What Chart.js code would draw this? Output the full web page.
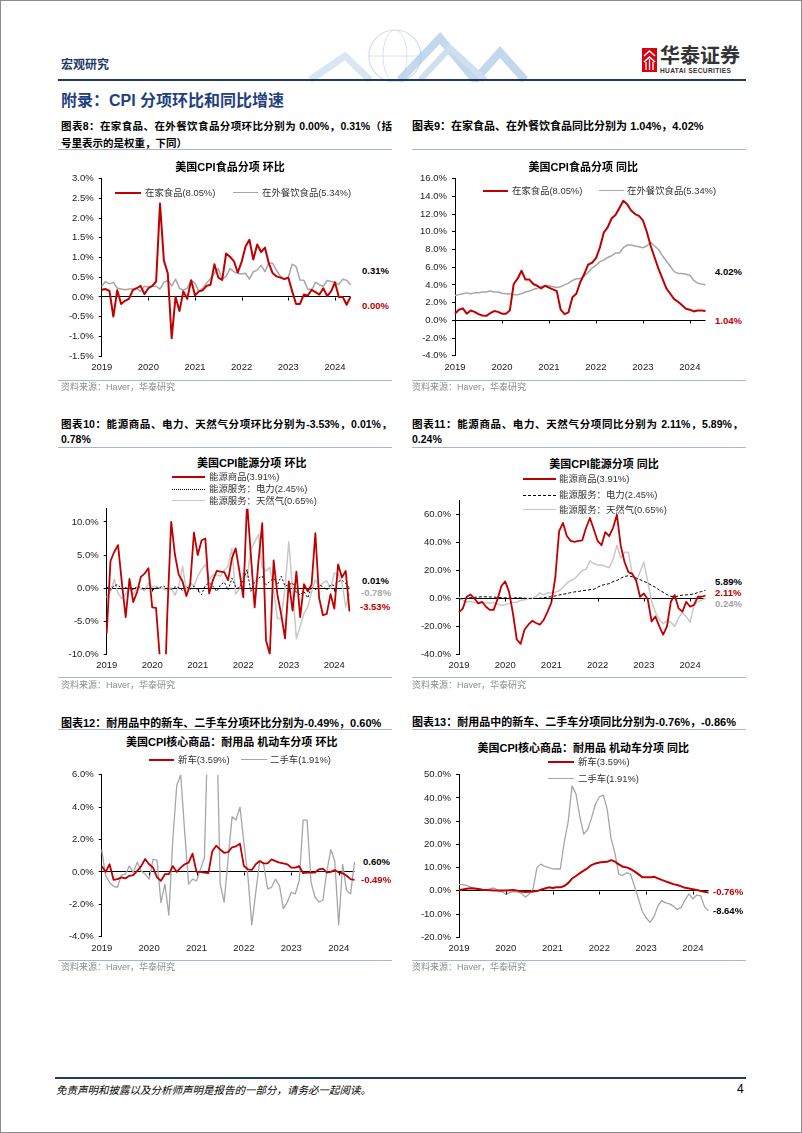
<!DOCTYPE html>
<html lang="zh-CN"><head><meta charset="utf-8">
<script src="https://cdn.jsdelivr.net/npm/chart.js@4.4.1/dist/chart.umd.min.js"></script>
<style>
html,body{margin:0;padding:0}
body{width:802px;height:1133px;position:relative;overflow:hidden;background:#fff;font-family:"Liberation Sans",Arial,"Noto Sans CJK SC",sans-serif;color:#000}
#frame{position:absolute;left:0;top:0;width:800px;height:1131px;border:1px solid #8c8c8c;pointer-events:none}
.t{position:absolute;white-space:nowrap;line-height:16px;height:16px}
.rule{position:absolute;height:0;border-top:1px solid #a9b6ca}
.navy{position:absolute;background:#1f3864}
.fig{font-weight:bold;font-size:11px}
.just{text-align:justify;text-align-last:justify;white-space:normal;overflow:hidden;font-size:10.5px}
.ctitle{font-weight:bold;font-size:11px;transform:translateX(-50%)}
.leg{font-size:9.4px;color:#333}
.ll{position:absolute;height:0}
.src{font-size:9px;color:#8c8c8c}
.end{font-weight:bold;font-size:9.5px}
canvas{position:absolute}
</style></head><body>
<div id="frame"></div>

<!-- header -->
<svg style="position:absolute;left:300px;top:26px" width="230" height="56">
  <circle cx="95" cy="30" r="26" fill="none" stroke="#d5dbe5" stroke-width="1.2"/>
  <ellipse cx="95" cy="30" rx="12" ry="26" fill="none" stroke="#dde2ea" stroke-width="1"/>
  <line x1="69" y1="30" x2="121" y2="30" stroke="#dde2ea"/>
  <polyline points="10,54 45,30 70,54" fill="none" stroke="#dbe6f3" stroke-width="7"/>
  <polyline points="100,54 140,12 175,54 200,26 225,54" fill="none" stroke="#a9c6e6" stroke-width="8" opacity="0.7"/>
  <polyline points="120,54 150,22 185,54" fill="none" stroke="#cfdff0" stroke-width="6"/>
</svg>
<div class="t" style="left:61px;top:57px;font-size:12px;font-weight:bold;color:#1f3864">宏观研究</div>
<svg style="position:absolute;left:642px;top:48px" width="15" height="24">
  <rect x="0" y="0" width="15" height="24" fill="#d6000f"/>
  <polyline points="2,8 7.5,3 13,8" fill="none" stroke="#fff" stroke-width="1.4"/>
  <polyline points="2,14 7.5,9 13,14" fill="none" stroke="#fff" stroke-width="1.4"/>
  <line x1="4" y1="14" x2="4" y2="22" stroke="#fff" stroke-width="1.3"/>
  <line x1="7.5" y1="11" x2="7.5" y2="22" stroke="#fff" stroke-width="1.3"/>
  <line x1="11" y1="14" x2="11" y2="22" stroke="#fff" stroke-width="1.3"/>
</svg>
<div class="t" style="left:660px;top:45px;font-size:20px;line-height:22px;height:22px;font-weight:bold;color:#333">华泰证券</div>
<div class="t" style="left:660px;top:66px;font-size:6.6px;line-height:9px;height:9px;font-weight:bold;color:#333;letter-spacing:0.35px">HUATAI SECURITIES</div>
<div class="navy" style="left:58px;top:79px;width:688px;height:2px"></div>

<div class="t" style="left:61px;top:92px;font-size:16px;line-height:18px;height:18px;font-weight:bold;color:#1f3f7f">附录：CPI 分项环比和同比增速</div>

<!-- figure titles row 1 -->
<div class="t fig just" style="left:61px;top:118px;width:331px">图表8：在家食品、在外餐饮食品分项环比分别为 0.00%，0.31%（括</div>
<div class="t fig" style="left:61px;top:136px;font-size:10.5px;line-height:15px;height:15px">号里表示的是权重，下同）</div>
<div class="t fig" style="left:412px;top:118px">图表9：在家食品、在外餐饮食品同比分别为 1.04%，4.02%</div>
<div class="rule" style="left:58px;top:148.5px;width:334px"></div>
<div class="rule" style="left:412px;top:148.5px;width:334px"></div>

<!-- figure titles row 2 -->
<div class="t fig just" style="left:61px;top:416px;width:331px">图表10：能源商品、电力、天然气分项环比分别为-3.53%，0.01%，</div>
<div class="t fig" style="left:61px;top:431px;font-size:10.5px">0.78%</div>
<div class="t fig just" style="left:412px;top:416px;width:331px">图表11：能源商品、电力、天然气分项同比分别为 2.11%，5.89%，</div>
<div class="t fig" style="left:412px;top:431px;font-size:10.5px">0.24%</div>
<div class="rule" style="left:58px;top:446.5px;width:334px"></div>
<div class="rule" style="left:412px;top:446.5px;width:334px"></div>

<!-- figure titles row 3 -->
<div class="t fig" style="left:61px;top:714.5px">图表12：耐用品中的新车、二手车分项环比分别为-0.49%，0.60%</div>
<div class="t fig" style="left:412px;top:714px">图表13：耐用品中的新车、二手车分项同比分别为-0.76%，-0.86%</div>
<div class="rule" style="left:58px;top:729px;width:334px"></div>
<div class="rule" style="left:412px;top:729px;width:334px"></div>

<!-- canvases -->
<canvas id="c8"></canvas><canvas id="c9"></canvas>
<canvas id="c10"></canvas><canvas id="c11"></canvas>
<canvas id="c12"></canvas><canvas id="c13"></canvas>

<!-- chart titles -->
<div class="t ctitle" style="left:230px;top:158.7px">美国CPI食品分项 环比</div>
<div class="t ctitle" style="left:583.3px;top:158.7px">美国CPI食品分项 同比</div>
<div class="t ctitle" style="left:251.7px;top:455.3px">美国CPI能源分项 环比</div>
<div class="t ctitle" style="left:604px;top:456px">美国CPI能源分项 同比</div>
<div class="t ctitle" style="left:231.7px;top:733.7px">美国CPI核心商品：耐用品 机动车分项 环比</div>
<div class="t ctitle" style="left:583.3px;top:740.3px">美国CPI核心商品：耐用品 机动车分项 同比</div>

<!-- legends chart 8 -->
<div class="ll" style="left:115px;top:192px;width:26px;border-top:2px solid #c00000"></div>
<div class="t leg" style="left:145px;top:185px">在家食品(8.05%)</div>
<div class="ll" style="left:232.7px;top:192.3px;width:25.3px;border-top:1.5px solid #a6a6a6"></div>
<div class="t leg" style="left:262px;top:185px">在外餐饮食品(5.34%)</div>
<!-- legends chart 9 -->
<div class="ll" style="left:482.7px;top:189.7px;width:25.3px;border-top:2px solid #c00000"></div>
<div class="t leg" style="left:512px;top:182.7px">在家食品(8.05%)</div>
<div class="ll" style="left:599px;top:190px;width:25px;border-top:1.5px solid #a6a6a6"></div>
<div class="t leg" style="left:627px;top:182.7px">在外餐饮食品(5.34%)</div>
<!-- legends chart 10 -->
<div class="ll" style="left:171.7px;top:475.7px;width:33.3px;border-top:2px solid #c00000"></div>
<div class="t leg" style="left:209px;top:468.7px">能源商品(3.91%)</div>
<div class="ll" style="left:171.7px;top:488.5px;width:33.3px;border-top:1.2px dotted #000"></div>
<div class="t leg" style="left:209px;top:481px">能源服务：电力(2.45%)</div>
<div class="ll" style="left:171.7px;top:500px;width:33.3px;border-top:1.5px solid #c8c8c8"></div>
<div class="t leg" style="left:209px;top:492.7px">能源服务：天然气(0.65%)</div>
<!-- legends chart 11 -->
<div class="ll" style="left:523px;top:477.7px;width:32.7px;border-top:2px solid #c00000"></div>
<div class="t leg" style="left:559px;top:470.7px">能源商品(3.91%)</div>
<div class="ll" style="left:523px;top:494.5px;width:32.7px;border-top:1px dashed #000"></div>
<div class="t leg" style="left:559px;top:487px">能源服务：电力(2.45%)</div>
<div class="ll" style="left:523px;top:509.3px;width:32.7px;border-top:1.5px solid #c8c8c8"></div>
<div class="t leg" style="left:559px;top:502px">能源服务：天然气(0.65%)</div>
<!-- legends chart 12 -->
<div class="ll" style="left:149px;top:759px;width:25px;border-top:2px solid #c00000"></div>
<div class="t leg" style="left:178px;top:752px">新车(3.59%)</div>
<div class="ll" style="left:240.7px;top:759.3px;width:26px;border-top:1.5px solid #a6a6a6"></div>
<div class="t leg" style="left:270px;top:752px">二手车(1.91%)</div>
<!-- legends chart 13 -->
<div class="ll" style="left:548px;top:761.3px;width:26px;border-top:2px solid #c00000"></div>
<div class="t leg" style="left:578px;top:754.3px">新车(3.59%)</div>
<div class="ll" style="left:548px;top:778.3px;width:26px;border-top:1.5px solid #a6a6a6"></div>
<div class="t leg" style="left:578px;top:771px">二手车(1.91%)</div>

<!-- end labels -->
<div class="t end" style="left:362px;top:263px">0.31%</div>
<div class="t end" style="left:362px;top:298px;color:#c00000">0.00%</div>
<div class="t end" style="left:715px;top:263.5px">4.02%</div>
<div class="t end" style="left:715px;top:312.5px;color:#c00000">1.04%</div>
<div class="t end" style="left:362px;top:572.7px">0.01%</div>
<div class="t end" style="left:361px;top:584.7px;color:#a6a6a6">-0.78%</div>
<div class="t end" style="left:360px;top:598.7px;color:#c00000">-3.53%</div>
<div class="t end" style="left:715px;top:573.7px">5.89%</div>
<div class="t end" style="left:715px;top:584.7px;color:#c00000">2.11%</div>
<div class="t end" style="left:715px;top:596px;color:#a6a6a6">0.24%</div>
<div class="t end" style="left:363px;top:853.7px">0.60%</div>
<div class="t end" style="left:361px;top:872px;color:#c00000">-0.49%</div>
<div class="t end" style="left:713px;top:883.7px;color:#c00000">-0.76%</div>
<div class="t end" style="left:713px;top:902.7px">-8.64%</div>

<!-- sources -->
<div class="rule" style="left:58px;top:379.5px;width:334px"></div>
<div class="rule" style="left:412px;top:379.5px;width:334px"></div>
<div class="t src" style="left:61px;top:378.7px">资料来源：Haver，华泰研究</div>
<div class="t src" style="left:412px;top:378.7px">资料来源：Haver，华泰研究</div>
<div class="rule" style="left:58px;top:677px;width:334px"></div>
<div class="rule" style="left:412px;top:677px;width:334px"></div>
<div class="t src" style="left:61px;top:677px">资料来源：Haver，华泰研究</div>
<div class="t src" style="left:412px;top:677px">资料来源：Haver，华泰研究</div>
<div class="rule" style="left:58px;top:960px;width:334px"></div>
<div class="rule" style="left:412px;top:960px;width:334px"></div>
<div class="t src" style="left:61px;top:959px">资料来源：Haver，华泰研究</div>
<div class="t src" style="left:412px;top:959px">资料来源：Haver，华泰研究</div>

<!-- footer -->
<div class="navy" style="left:55px;top:1077px;width:691px;height:2px"></div>
<div class="t" style="left:56px;top:1082px;font-size:10.5px;font-style:italic">免责声明和披露以及分析师声明是报告的一部分，请务必一起阅读。</div>
<div class="t" style="left:737px;top:1081px;font-size:12px">4</div>

<script>
// ---------- categories ----------
const years = ['2019','2020','2021','2022','2023','2024'];
const months = [];
years.forEach(y => { for (let m = 1; m <= 12; m++) { if (months.length < 65) months.push(y + '-' + String(m).padStart(2, '0')); } });

// ---------- 图表8 环比 (%) ----------
const food_home_mom = [0.18,0.20,0.15,-0.50,0.17,-0.18,-0.10,-0.05,0.17,0.22,0.28,0.07,
  0.22,0.28,0.39,2.37,0.92,0.60,-1.05,0.00,-0.36,0.14,-0.05,0.42,
  0.04,0.14,0.17,0.28,0.31,0.83,0.49,0.43,1.10,1.02,0.91,0.62,
  0.89,1.28,1.45,0.95,1.33,1.14,1.25,0.85,0.60,0.52,0.49,0.45,
  0.49,0.14,-0.18,-0.18,0.06,0.03,0.18,0.12,0.06,0.22,0.02,0.14,
  0.37,0.00,0.00,-0.20,0.00];
const food_away_mom = [0.27,0.39,0.33,0.37,0.22,0.20,0.18,0.20,0.20,0.22,0.14,0.27,
  0.25,0.27,0.27,0.20,0.37,0.42,0.28,0.45,0.22,0.17,0.22,0.42,
  0.35,0.14,0.22,0.35,0.47,0.60,0.72,0.45,0.52,0.72,0.64,0.60,
  0.58,0.60,0.45,0.64,0.68,0.80,0.64,0.87,0.85,0.67,0.52,0.45,
  0.50,0.83,0.77,0.43,0.42,0.20,0.18,0.37,0.31,0.27,0.42,0.39,
  0.37,0.31,0.45,0.42,0.31];

// ---------- 图表9 同比 (%) ----------
const food_home_yoy = [0.74,1.2,1.35,0.75,1.1,0.95,0.7,0.55,0.5,0.8,1.05,0.95,
  0.75,0.75,1.1,4.1,4.7,5.6,4.6,4.6,4.1,3.9,3.6,3.9,
  3.7,3.5,3.3,1.2,0.7,0.9,2.6,3.0,4.3,5.2,6.3,6.5,
  7.0,8.2,9.9,10.5,11.5,11.9,12.7,13.5,13.1,12.4,12.0,11.8,
  11.3,10.0,8.4,7.1,5.8,4.7,3.6,3.0,2.4,2.1,1.7,1.3,
  1.2,1.0,1.1,1.1,1.04];
const food_away_yoy = [2.8,2.9,3.0,3.1,3.0,3.1,3.1,3.2,3.2,3.3,3.2,3.2,
  3.05,3.0,3.0,2.9,2.9,3.0,3.2,3.3,3.5,3.6,3.8,3.9,
  3.9,3.8,3.7,3.8,4.0,4.2,4.5,4.7,4.7,5.0,5.4,5.9,
  6.2,6.6,6.8,7.1,7.3,7.6,7.6,8.2,8.5,8.5,8.4,8.3,
  8.2,8.4,8.8,8.4,8.0,7.3,6.7,6.1,5.5,5.3,5.3,5.2,
  5.1,4.5,4.2,4.1,4.02];

// ---------- 图表10 能源环比 (%) ----------
const energy_goods_mom = [-6.8,4.1,5.5,6.5,0.8,-4.4,1.4,-2.1,-0.6,1.7,2.2,3.0,
  -2.9,-3.0,-10.5,-20.6,-3.5,10.0,5.0,2.0,1.0,-1.2,0.5,8.4,
  5.0,7.2,7.5,-0.8,1.2,2.6,2.5,2.4,1.2,4.5,6.0,2.5,
  -1.4,13.0,5.0,-2.9,4.0,9.8,-7.9,-10.0,4.2,-1.0,-4.0,-7.6,
  1.0,-3.4,2.5,-4.4,0.6,-0.5,0.5,8.3,-1.5,-4.1,-3.9,-0.9,
  -3.1,3.6,1.6,2.6,-3.53];
const electricity_mom = [0.2,-0.3,0.4,0.5,-0.2,0.1,0.0,-0.3,0.3,0.1,-0.2,0.1,
  -0.3,0.0,0.1,0.3,-0.1,-0.2,0.2,0.1,-0.4,0.2,-0.2,0.3,
  -0.3,-1.0,0.4,0.8,0.3,-0.5,0.5,0.9,-0.3,1.5,0.2,0.0,
  1.2,2.8,-0.5,1.0,1.5,1.8,0.5,1.0,1.5,0.5,1.8,0.3,
  0.5,0.8,-0.7,-1.0,-0.5,-1.5,0.2,-0.3,0.5,0.2,-0.3,0.5,
  0.4,1.0,1.2,0.7,0.01];
const gas_mom = [-1.4,-0.5,1.3,-0.8,-1.6,-0.9,0.0,-0.9,0.0,-0.1,-0.4,0.8,
  0.1,0.3,0.0,-0.1,-0.4,0.1,-1.1,0.3,3.3,-0.4,0.8,0.3,
  1.8,2.8,3.6,1.3,2.0,2.0,1.8,2.7,3.3,6.0,-0.9,-0.1,
  2.3,1.6,5.8,7.0,8.1,3.1,2.6,3.1,-0.4,-4.6,-4.6,0.1,
  7.0,-0.3,-7.6,-5.8,-3.8,-2.8,-0.6,1.3,0.2,0.8,1.1,-0.1,
  2.3,2.1,0.8,-2.8,-0.78];

// ---------- 图表11 能源同比 (%) ----------
const energy_goods_yoy = [-9.9,-7.1,1.2,2.8,0.0,-3.5,-2.4,-5.9,-8.2,-8.2,-0.5,8.9,
  12.2,4.7,-10.6,-29.4,-32.5,-22.4,-18.8,-16.0,-17.6,-18.8,-15.3,-9.4,
  -2.8,15.0,48.2,54.1,44.7,41.2,40.5,41.2,41.6,50.6,57.6,49.4,
  41.2,38.1,47.5,44.7,50.6,60.0,37.6,25.9,18.8,17.6,12.9,1.2,
  3.5,-0.5,-16.5,-12.9,-20.0,-25.9,-20.0,-2.4,2.4,-7.1,-9.4,-2.4,
  -5.9,-4.7,1.2,1.2,2.11];
const electricity_yoy = [-0.5,0,0.2,0.5,0.8,1.0,1.2,1.2,1.0,1.0,0.8,0.5,
  0.4,0.3,0.3,0.5,0.5,0.2,0,0,0,0.2,0.5,1.0,
  1.2,1.8,2.5,3.0,3.5,4.2,4.7,5.0,5.5,5.9,6.3,6.6,
  8.0,9.4,10.0,10.6,12.0,12.9,14.5,15.8,16.2,15.5,14.6,13.5,
  12.2,11.0,9.4,8.0,5.9,4.5,2.8,1.5,1.2,1.8,2.4,2.6,
  2.8,3.2,4.2,5.0,5.89];
const gas_yoy = [1,-1.5,-2.5,-2,-3,-3.5,-3,-3,-3.5,-3,-4,-5,
  -4.5,-3.5,-3,-2.5,-1.5,-1,0,0,1.5,4.0,2.5,4.0,
  4,4.5,5.5,8,11,13,14,17,20,21,27,25,
  24,24,23,22,28,38,29,33,33,17,12,19,
  26,12,-2,-10,-15,-18,-16,-17,-20,-14,-10,-13,
  -17,-5,-2.4,-1.2,0.24];

// ---------- 图表12 机动车环比 (%) ----------
const newcar_mom = [0.36,0,0.47,-0.49,-0.45,-0.34,-0.4,-0.24,-0.2,0.06,0.36,0.8,
  0.47,0.26,-0.34,-0.55,-0.14,-0.14,0.36,0,0.26,0.47,0.57,1.13,
  0,0,-0.04,-0.08,1.28,1.62,1.38,1.18,1.22,1.52,1.58,1.74,
  0.36,0.16,0.12,0.47,0.67,0.53,0.53,0.77,0.67,0.57,0.53,0.47,
  0.26,0.26,0.36,-0.08,-0.04,-0.04,-0.04,0.16,0.2,-0.04,0,0.12,
  -0.04,-0.08,-0.24,-0.45,-0.49];
const usedcar_mom = [1.38,-0.24,-0.65,-0.89,-0.95,-0.2,-0.14,0.36,-0.04,0.6,0.06,-0.14,
  -0.45,0.77,0.73,-1.9,-0.75,-2.67,2.0,5.33,6.0,2.5,-0.75,-0.45,
  -0.55,0.16,0.87,10.0,7.3,10.5,-0.75,-1.86,0.8,3.4,3.2,4.0,
  1.8,-0.24,-3.28,-1.26,0.67,0.47,-1.05,-0.95,-0.45,-0.85,-2.27,-1.86,
  -1.26,-1.36,-0.55,3.2,3.2,-0.65,-1.55,-1.86,-1.75,0.04,1.38,0.67,
  -3.28,0.47,-1.15,-1.36,0.6];

// ---------- 图表13 机动车同比 (%) ----------
const newcar_yoy = [0.3,0.6,0.9,1.1,1.0,0.8,0.5,0.4,0.3,0.2,0.1,0.1,
  0.2,0.3,0.4,0.1,-0.3,-0.5,-0.4,-0.3,-0.1,0.5,1.0,1.5,
  1.2,1.5,1.5,2.1,3.3,5.3,6.4,7.6,8.7,9.8,11.1,11.8,
  12.2,12.4,12.5,13.2,12.6,11.4,10.4,10.1,9.4,8.4,7.2,5.9,
  5.8,5.8,6.1,5.4,4.7,4.1,3.5,2.9,2.5,1.9,1.3,1.0,
  0.7,0.4,-0.1,-0.4,-0.76];
const usedcar_yoy = [2.8,2.7,2.4,1.6,1.0,0.6,0.5,0.2,1.0,1.2,0.1,-0.4,
  -1.5,-0.8,-0.3,-0.5,-1.0,-2.7,-1.5,1.0,10.0,11.5,10.5,10.0,
  9.5,9.4,9.4,21.0,29.7,45.2,41.7,31.9,24.4,26.4,31.4,37.3,
  40.5,41.2,35.3,22.7,16.1,7.1,6.6,7.8,7.2,2.0,-3.3,-8.8,
  -11.6,-13.6,-11.2,-6.6,-4.2,-5.2,-5.6,-6.6,-8.0,-7.1,-3.8,-1.3,
  -3.5,-1.8,-2.2,-6.9,-8.64];

// ---------- colours ----------
const RED = '#c00000', GRAY = '#a6a6a6', LGRAY = '#c8c8c8', BLACK = '#000000';

const zeroTicks = {
  id: 'zeroTicks',
  afterDraw(chart) {
    const xs = chart.scales.x, ys = chart.scales.y, ctx = chart.ctx;
    const y0 = Math.round(ys.getPixelForValue(0)) + 0.5;
    ctx.save(); ctx.strokeStyle = '#000'; ctx.lineWidth = 1;
    chart.data.labels.forEach((lab, i) => {
      if (i > 0 && lab.endsWith('-01')) {
        const x = Math.round(xs.getPixelForValue(i)) + 0.5;
        ctx.beginPath(); ctx.moveTo(x, y0); ctx.lineTo(x, y0 + 3); ctx.stroke();
      }
    });
    ctx.restore();
  }
};

const tickFont = {family: "'Liberation Sans', Arial, sans-serif", size: 9.5};

function makeChart(id, cfg) {
  const c = document.getElementById(id);
  const b = cfg.box, p = cfg.plot;
  c.width = b.w; c.height = b.h;
  c.style.left = b.l + 'px'; c.style.top = b.t + 'px';
  c.style.width = b.w + 'px'; c.style.height = b.h + 'px';
  const yW = p.l - b.l, padR = b.l + b.w - p.r, padT = p.t - b.t, xH = b.t + b.h - p.b;
  new Chart(c, {
    type: 'line',
    data: {
      labels: months,
      datasets: cfg.series.map(s => ({
        label: s.name, data: s.data, borderColor: s.color, borderWidth: s.width,
        borderDash: s.dash || [], pointRadius: 0, tension: 0, fill: false,
        borderJoinStyle: 'round', borderCapStyle: 'butt'
      }))
    },
    options: {
      responsive: false, animation: false, devicePixelRatio: 1, events: [],
      layout: {padding: {left: 0, right: padR, top: padT, bottom: 0}},
      plugins: {legend: {display: false}, tooltip: {enabled: false}, title: {display: false}},
      scales: {
        x: {
          type: 'category', offset: false,
          grid: {display: false, drawTicks: false},
          border: {display: false},
          ticks: {autoSkip: false, maxRotation: 0, minRotation: 0, padding: 5.5, color: '#1a1a1a', font: tickFont,
            callback: (v, i) => months[i].endsWith('-01') ? months[i].slice(0, 4) : ''},
          afterFit: s => { s.height = xH; }
        },
        y: {
          min: cfg.min, max: cfg.max,
          grid: {color: ctx => (ctx.tick && Math.abs(ctx.tick.value) < 1e-9) ? '#000' : 'rgba(0,0,0,0)',
                 tickColor: '#000', tickLength: 3, lineWidth: 1, drawTicks: true},
          border: {display: true, color: '#000', width: 1},
          ticks: {stepSize: cfg.step, padding: 5, color: '#1a1a1a', font: tickFont,
                  callback: v => Number(v).toFixed(1) + '%'},
          afterBuildTicks: s => { s.ticks = s.ticks.filter(t => t.value <= cfg.tickMax + 1e-9); },
          afterFit: s => { s.width = yW; }
        }
      }
    },
    plugins: [zeroTicks]
  });
}

makeChart('c8', {box: {l: 58, t: 168, w: 298, h: 212}, plot: {l: 101.7, r: 352.4, t: 176.7, b: 356},
  min: -1.5, max: 3.0, step: 0.5, tickMax: 3.0,
  series: [{name: '在家食品(8.05%)', data: food_home_mom, color: RED, width: 2},
           {name: '在外餐饮食品(5.34%)', data: food_away_mom, color: GRAY, width: 1.5}]});

makeChart('c9', {box: {l: 405, t: 168, w: 306, h: 212}, plot: {l: 455, r: 707, t: 176.7, b: 355.7},
  min: -4, max: 16, step: 2, tickMax: 16,
  series: [{name: '在家食品(8.05%)', data: food_home_yoy, color: RED, width: 2},
           {name: '在外餐饮食品(5.34%)', data: food_away_yoy, color: GRAY, width: 1.5}]});

makeChart('c10', {box: {l: 58, t: 498, w: 297, h: 180}, plot: {l: 106.7, r: 351, t: 506.7, b: 654.3},
  min: -10, max: 12, step: 5, tickMax: 10,
  series: [{name: '能源商品(3.91%)', data: energy_goods_mom, color: RED, width: 1.8},
           {name: '能源服务：电力(2.45%)', data: electricity_mom, color: BLACK, width: 1, dash: [2, 2]},
           {name: '能源服务：天然气(0.65%)', data: gas_mom, color: LGRAY, width: 1.5}]});

makeChart('c11', {box: {l: 405, t: 490, w: 306, h: 188}, plot: {l: 459, r: 707.3, t: 499.2, b: 654.3},
  min: -40, max: 70, step: 20, tickMax: 60,
  series: [{name: '能源商品(3.91%)', data: energy_goods_yoy, color: RED, width: 1.8},
           {name: '能源服务：电力(2.45%)', data: electricity_yoy, color: BLACK, width: 1, dash: [3, 2]},
           {name: '能源服务：天然气(0.65%)', data: gas_yoy, color: LGRAY, width: 1.5}]});

makeChart('c12', {box: {l: 58, t: 764, w: 302, h: 196}, plot: {l: 101.7, r: 357.3, t: 772.3, b: 936.7},
  min: -4, max: 6, step: 2, tickMax: 6,
  series: [{name: '新车(3.59%)', data: newcar_mom, color: RED, width: 1.8},
           {name: '二手车(1.91%)', data: usedcar_mom, color: GRAY, width: 1.3}]});

makeChart('c13', {box: {l: 405, t: 764, w: 309, h: 196}, plot: {l: 459, r: 710.7, t: 772.7, b: 937.3},
  min: -20, max: 50, step: 10, tickMax: 50,
  series: [{name: '新车(3.59%)', data: newcar_yoy, color: RED, width: 2},
           {name: '二手车(1.91%)', data: usedcar_yoy, color: GRAY, width: 1.3}]});
</script>
</body></html>
